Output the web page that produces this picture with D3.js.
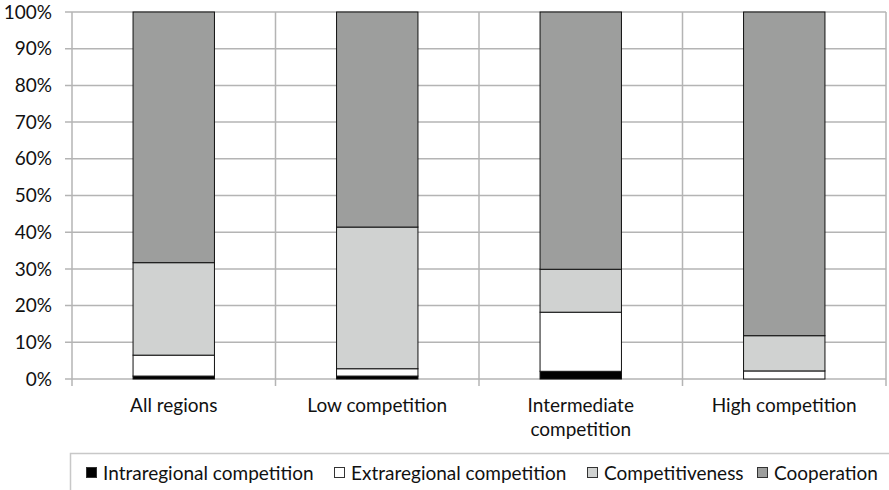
<!DOCTYPE html>
<html>
<head>
<meta charset="utf-8">
<script src="https://cdn.jsdelivr.net/npm/d3@7"></script>
<style>
  html, body { margin: 0; padding: 0; background: #fff; }
  svg { display: block; }
  text { font-family: Lato, "Open Sans", sans-serif; fill: #111; }
</style>
</head>
<body>
<svg id="chart" width="889" height="490"></svg>
<script>
// Share of each type of interaction by region group (percent)
const categories = ["All regions", "Low competition", "Intermediate competition", "High competition"];
const categoryLines = [["All regions"], ["Low competition"], ["Intermediate", "competition"], ["High competition"]];
const seriesNames = ["Intraregional competition", "Extraregional competition", "Competitiveness", "Cooperation"];
const intraregional = [0.8, 0.8, 2.1, 0.0];
const extraregional = [5.7, 2.0, 16.1, 2.2];
const competitiveness = [25.2, 38.6, 11.7, 9.6];
const cooperation = [68.3, 58.6, 70.1, 88.2];
const seriesColors = ["#000000", "#ffffff", "#d0d2d1", "#9d9e9d"];
const yTicks = [0, 10, 20, 30, 40, 50, 60, 70, 80, 90, 100];

const rows = categories.map((c, i) => ({
  category: c,
  "Intraregional competition": intraregional[i],
  "Extraregional competition": extraregional[i],
  "Competitiveness": competitiveness[i],
  "Cooperation": cooperation[i]
}));

const svg = d3.select("#chart");
const plot = { left: 72, right: 886, top: 12, bottom: 379 };
const gridColor = "#b4b4b4";
const fontSize = "19px";

const x = d3.scaleBand().domain(categories).range([plot.left, plot.right]).paddingInner(0).paddingOuter(0);
const y = d3.scaleLinear().domain([0, 100]).range([plot.bottom, plot.top]);

// horizontal gridlines
svg.append("g")
  .selectAll("line")
  .data(yTicks)
  .join("line")
  .attr("x1", plot.left - 7)
  .attr("x2", plot.right)
  .attr("y1", d => y(d))
  .attr("y2", d => y(d))
  .attr("stroke", gridColor)
  .attr("stroke-width", 1.5);

// vertical gridlines on category boundaries
const bounds = categories.map(c => x(c)).concat([x(categories[categories.length - 1]) + x.bandwidth()]);
svg.append("g")
  .selectAll("line")
  .data(bounds)
  .join("line")
  .attr("x1", d => d)
  .attr("x2", d => d)
  .attr("y1", plot.top)
  .attr("y2", plot.bottom + 7)
  .attr("stroke", gridColor)
  .attr("stroke-width", 1.5);

// y tick labels
svg.append("g")
  .selectAll("text")
  .data(yTicks)
  .join("text")
  .attr("x", 52)
  .attr("y", d => y(d))
  .attr("dy", "0.35em")
  .attr("text-anchor", "end")
  .style("font-size", fontSize)
  .text(d => d + "%");

// stacked bars
const stack = d3.stack().keys(seriesNames);
const stacked = stack(rows);
const barW = x.bandwidth() * 0.4;

svg.append("g")
  .selectAll("g")
  .data(stacked)
  .join("g")
  .attr("fill", (d, i) => seriesColors[i])
  .selectAll("rect")
  .data(d => d.filter(s => s[1] - s[0] > 0))
  .join("rect")
  .attr("x", d => x(d.data.category) + (x.bandwidth() - barW) / 2)
  .attr("y", d => y(d[1]))
  .attr("width", barW)
  .attr("height", d => y(d[0]) - y(d[1]))
  .attr("stroke", "#111")
  .attr("stroke-width", 1);

// category labels
const catG = svg.append("g");
categories.forEach((c, i) => {
  const cx = x(c) + x.bandwidth() / 2;
  const t = catG.append("text")
    .attr("x", cx)
    .attr("y", 405)
    .attr("dy", "0.35em")
    .attr("text-anchor", "middle")
    .style("font-size", fontSize);
  categoryLines[i].forEach((line, j) => {
    t.append("tspan")
      .attr("x", cx)
      .attr("dy", j === 0 ? "0.35em" : 24)
      .text(line);
  });
});

// legend
const legend = svg.append("g");
legend.append("rect")
  .attr("x", 70.5)
  .attr("y", 453.5)
  .attr("width", 840)
  .attr("height", 60)
  .attr("fill", "none")
  .attr("stroke", "#c8c8c8")
  .attr("stroke-width", 1.5);

const legendX = [86, 334, 587, 757];
seriesNames.forEach((name, i) => {
  legend.append("rect")
    .attr("x", legendX[i] + 0.5)
    .attr("y", 467.5)
    .attr("width", 10)
    .attr("height", 10)
    .attr("fill", seriesColors[i])
    .attr("stroke", "#333")
    .attr("stroke-width", 1);
  legend.append("text")
    .attr("x", legendX[i] + 17)
    .attr("y", 473)
    .attr("dy", "0.35em")
    .style("font-size", fontSize)
    .text(name);
});
</script>
</body>
</html>
